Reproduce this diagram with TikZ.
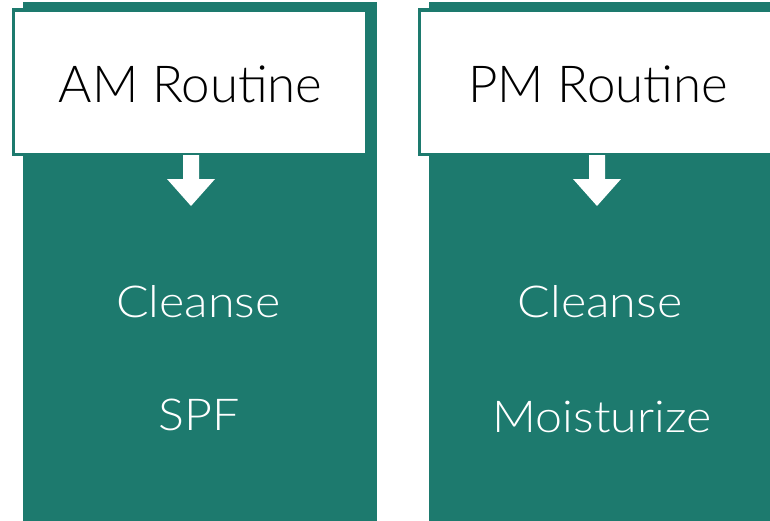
\documentclass[tikz,border=0pt]{standalone}
\usepackage{fontspec}
\setmainfont{Lato Light}
\definecolor{teal1}{RGB}{29,122,110}
\begin{document}
\begin{tikzpicture}[x=1pt,y=-1pt,
  panel/.style={fill=teal1,draw=none},
  headbox/.style={fill=white,draw=teal1,line width=3.4pt},
  title/.style={anchor=base,inner sep=0pt,text=black,font=\fontsize{51}{60}\selectfont},
  item/.style={anchor=base,inner sep=0pt,text=white,font=\fontsize{44}{50}\selectfont,xscale=1.1},
  downarrow/.style={fill=white,draw=none}]
\useasboundingbox (0,0) rectangle (770,520);
\begin{scope}
\clip (0,0) rectangle (770,520);
% panels
\path[panel] (23,2) rectangle (377,522);
\path[panel] (429,2) rectangle (780,522);
% header boxes
\path[headbox] (13.7,10) rectangle (366.3,154.3);
\path[headbox] (419.5,10) rectangle (790,154.3);
% arrows
\path[downarrow] (183,155) -- (199,155) -- (199,179) -- (215,179) -- (191,206) -- (167,179) -- (183,179) -- cycle;
\path[downarrow] (589,155) -- (605,155) -- (605,179) -- (621,179) -- (597,206) -- (573,179) -- (589,179) -- cycle;
\end{scope}
% texts
\node[title] (am) at (190.5,102) {AM Routine};
\node[title] (pm) at (598,102) {PM Routine};
\node[item] (c1) at (198.5,317) {Cleanse};
\node[item] (s1) at (199,430) {SPF};
\node[item] (c2) at (600,317) {Cleanse};
\node[item] (m2) at (602,432) {Moisturize};
\end{tikzpicture}
\end{document}
